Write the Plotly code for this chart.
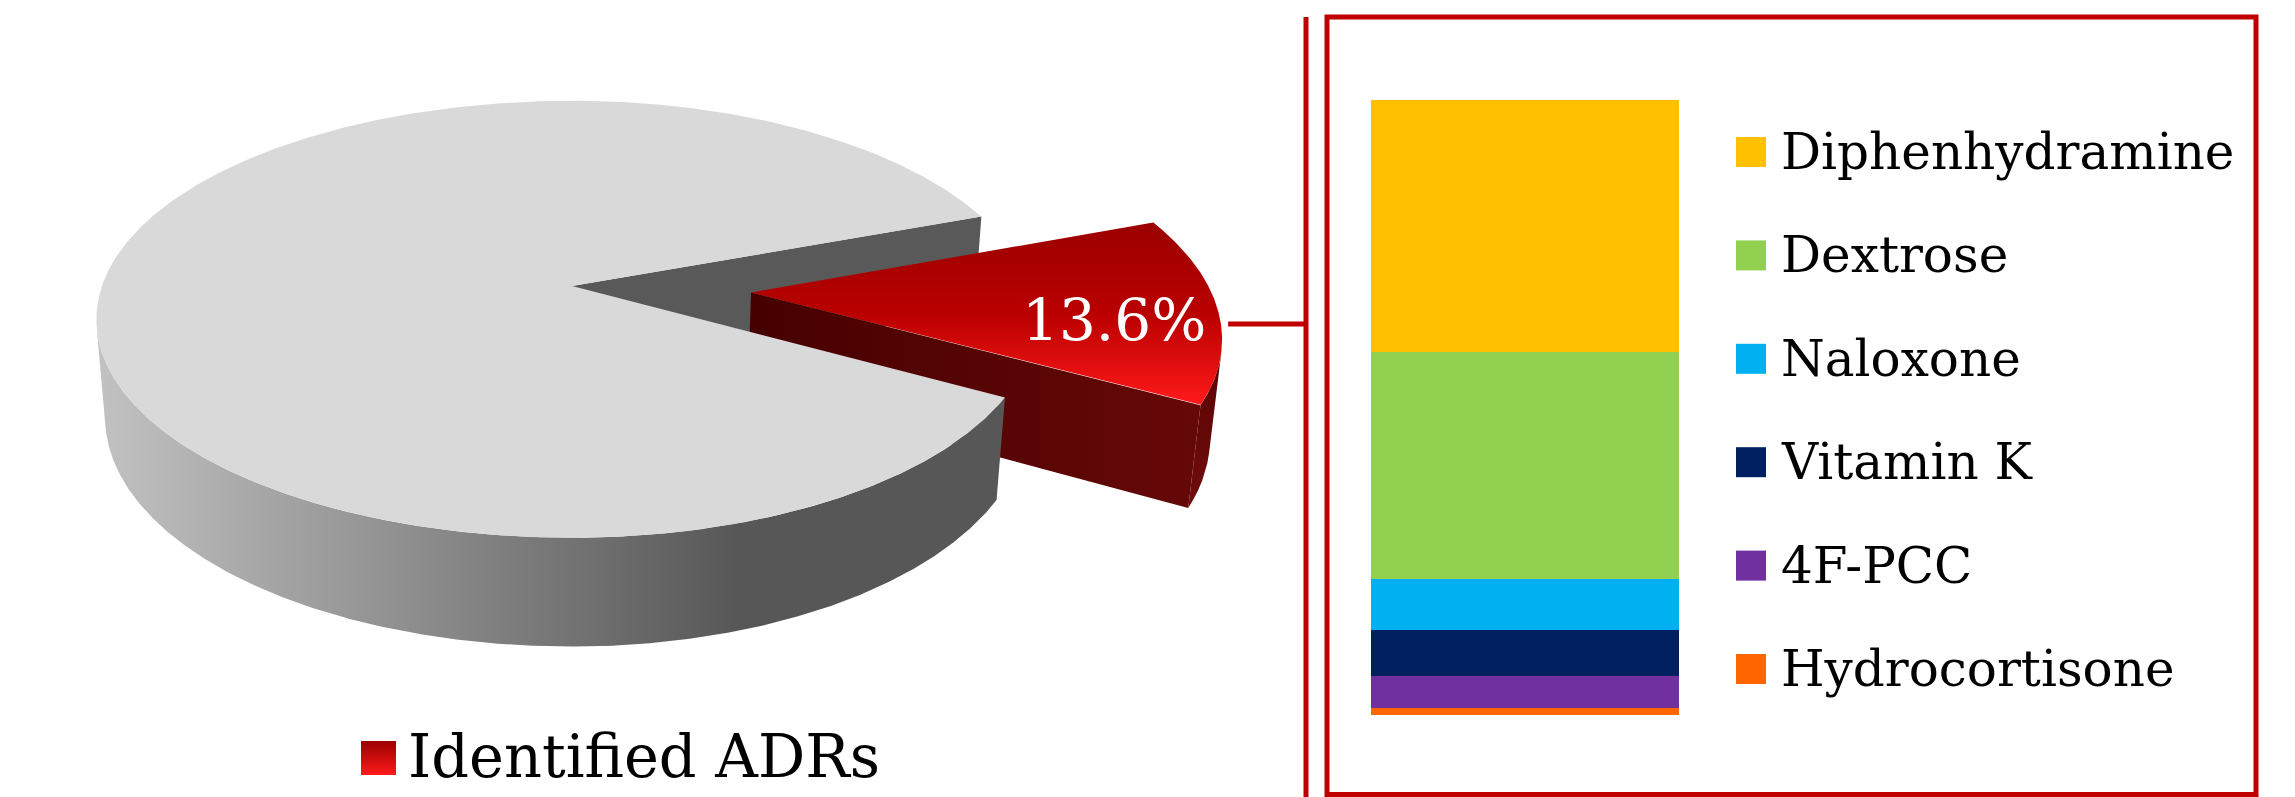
import numpy as np
import plotly.graph_objects as go

# ---------------- data ----------------
pie_labels = ["Identified ADRs", "Other"]
pie_share = [13.6, 86.4]

drug_names = ["Diphenhydramine", "Dextrose", "Naloxone", "Vitamin K", "4F-PCC", "Hydrocortisone"]
drug_share = [41.0, 36.9, 8.3, 7.5, 5.2, 1.1]
drug_colors = ["#FFC000", "#92D050", "#00B0F0", "#002060", "#7030A0", "#FF6600"]

# ---------------- layout parameters ----------------
W, H = 2295, 797
FONT = "DejaVu Serif"
RED_LINE = "#C00000"

# 3-D pie camera / geometry (pixel-space layout)
CX, CY = 572, 286
K = 2750
KR = 0.975          # slight horizontal compression of the right half (as in reference)
DIST = 5.85
ELEV = np.radians(27)
THICK = 0.236
TOP_ANGLE = 20.0
EXPLODE = 0.39
cE, sE = np.cos(ELEV), np.sin(ELEV)


def proj(X, Y, Z):
    X = np.asarray(X, float)
    Y = np.asarray(Y, float)
    Z = np.asarray(Z, float)
    ry = Y + DIST * cE
    rz = Z - DIST * sE
    depth = ry * cE - rz * sE
    up = ry * sE + rz * cE
    xs = K * X / depth
    xs = np.where(xs > 0, xs * KR, xs)
    return CX + xs, CY - K * up / depth


span = 360.0 * pie_share[0] / sum(pie_share)
a_hi = TOP_ANGLE
a_lo = TOP_ANGLE - span
beta = np.radians((a_hi + a_lo) / 2)
Ex, Ey = EXPLODE * np.cos(beta), EXPLODE * np.sin(beta)


def poly(trace_x, trace_y, **kw):
    return go.Scatter(x=list(trace_x) + [trace_x[0]], y=list(trace_y) + [trace_y[0]],
                      mode="lines", fill="toself", line=dict(width=0),
                      hoverinfo="skip", showlegend=False, **kw)


fig = go.Figure()

# --- gray slice: cut face at upper edge (visible through the gap)
ah = np.radians(a_hi)
gx, gy = proj([0, np.cos(ah), np.cos(ah), 0], [0, np.sin(ah), np.sin(ah), 0], [0, 0, -THICK, -THICK])
fig.add_trace(poly(gx, gy, fillcolor="#595959"))

# --- red slice: cut face at lower edge
al = np.radians(a_lo)
rx, ry = proj([Ex, Ex + np.cos(al), Ex + np.cos(al), Ex],
              [Ey, Ey + np.sin(al), Ey + np.sin(al), Ey], [0, 0, -THICK, -THICK])
fig.add_trace(poly(rx, ry, fillgradient=dict(type="horizontal",
                                             colorscale=[[0, "#460000"], [1, "#660808"]])))

# --- red slice: visible rim
ang = np.radians(np.linspace(a_lo, a_hi, 3000))
vis = 1 + Ex * np.cos(ang) + (Ey + DIST * cE) * np.sin(ang) < 0
ra = ang[vis]
tx, ty = proj(Ex + np.cos(ra), Ey + np.sin(ra), np.zeros_like(ra))
bx, by = proj(Ex + np.cos(ra), Ey + np.sin(ra), np.full_like(ra, -THICK))
fig.add_trace(poly(np.concatenate([tx, bx[::-1]]), np.concatenate([ty, by[::-1]]),
                   fillgradient=dict(type="vertical",
                                     colorscale=[[0, "#700C0C"], [1, "#5A0404"]])))

# --- red slice: top face
ang = np.radians(np.linspace(a_lo, a_hi, 400))
px_, py_ = proj(np.concatenate([[Ex], Ex + np.cos(ang)]),
                np.concatenate([[Ey], Ey + np.sin(ang)]), np.zeros(len(ang) + 1))
fig.add_trace(poly(px_, py_, fillgradient=dict(
    type="vertical", colorscale=[[0, "#9A0000"], [0.5, "#BA0000"], [1, "#FF1A1A"]],
    start=float(py_.min()), stop=float(py_.max()))))
red_right = float(px_.max())

# --- gray slice: visible rim
sil = np.degrees(np.arcsin(1 / (DIST * cE)))
g0, g1 = max(a_hi, 180 + sil), min(a_lo + 360, 360 - sil)
ang = np.radians(np.linspace(g0, g1, 600))
tx, ty = proj(np.cos(ang), np.sin(ang), np.zeros_like(ang))
bx, by = proj(np.cos(ang), np.sin(ang), np.full_like(ang, -THICK))
sx = np.concatenate([tx, bx[::-1]])
fig.add_trace(poly(sx, np.concatenate([ty, by[::-1]]), fillgradient=dict(
    type="horizontal", colorscale=[[0, "#C2C2C2"], [1, "#575757"]],
    start=float(sx.min()), stop=740.0)))

# --- gray slice: top face
ang = np.radians(np.linspace(a_hi, a_lo + 360, 800))
gx, gy = proj(np.concatenate([[0], np.cos(ang)]), np.concatenate([[0], np.sin(ang)]),
              np.zeros(len(ang) + 1))
fig.add_trace(poly(gx, gy, fillcolor="#D9D9D9"))

# --- percentage label on red slice
lx, ly = proj(Ex + 0.78 * np.cos(beta), Ey + 0.78 * np.sin(beta), 0)
annotations = [dict(x=float(lx), y=float(ly), xref="x", yref="y", text=f"{pie_share[0]:.1f}%",
                    showarrow=False, yshift=-14, font=dict(family=FONT, size=58, color="white"))]

# --- bottom legend for the pie
LEG_Y = 756
lgx = [361, 396, 396, 361]
lgy = [LEG_Y - 15, LEG_Y - 15, LEG_Y + 19, LEG_Y + 19]
fig.add_trace(poly(lgx, lgy, fillgradient=dict(
    type="vertical", colorscale=[[0, "#9A0000"], [1, "#FF1A1A"]],
    start=LEG_Y - 15, stop=LEG_Y + 19)))
annotations.append(dict(x=406, y=LEG_Y, xref="x", yref="y", xanchor="left", yanchor="middle",
                        text=pie_labels[0], showarrow=False,
                        font=dict(family=FONT, size=59, color="black")))

# --- stacked bar (bar of pie)
BAR_X0, BAR_X1, BAR_TOP, BAR_BOT = 1371, 1679, 100, 715
for name, val, col in list(zip(drug_names, drug_share, drug_colors))[::-1]:
    fig.add_trace(go.Bar(x=[0], y=[val], width=1, name=name, marker=dict(color=col, line=dict(width=0)),
                         xaxis="x2", yaxis="y2", showlegend=False, hoverinfo="name+y"))

# --- right legend
LX, LY0, LDY = 1751, 152, 103.4
leg_y = [LY0 + i * LDY for i in range(len(drug_names))]
fig.add_trace(go.Scatter(x=[LX] * len(drug_names), y=leg_y, mode="markers",
                         marker=dict(symbol="square", size=30, color=drug_colors, line=dict(width=0)),
                         hoverinfo="skip", showlegend=False))
for name, yy in zip(drug_names, leg_y):
    annotations.append(dict(x=LX + 28, y=yy, xref="x", yref="y", xanchor="left", yanchor="middle",
                            text=name, showarrow=False, font=dict(family=FONT, size=50, color="black")))

# --- connector lines and frame
shapes = [
    dict(type="line", x0=red_right + 6, x1=1306, y0=324, y1=324, xref="x", yref="y",
         line=dict(color=RED_LINE, width=5)),
    dict(type="line", x0=1306, x1=1306, y0=17, y1=H, xref="x", yref="y",
         line=dict(color=RED_LINE, width=5)),
    dict(type="rect", x0=1327, x1=2256, y0=17, y1=794.5, xref="x", yref="y",
         line=dict(color=RED_LINE, width=5)),
]

fig.update_layout(
    width=W, height=H, margin=dict(l=0, r=0, t=0, b=0),
    paper_bgcolor="white", plot_bgcolor="rgba(0,0,0,0)",
    showlegend=False, barmode="stack", bargap=0,
    xaxis=dict(range=[0, W], domain=[0, 1], visible=False, fixedrange=True),
    yaxis=dict(range=[H, 0], domain=[0, 1], visible=False, fixedrange=True),
    xaxis2=dict(range=[-0.5, 0.5], domain=[BAR_X0 / W, BAR_X1 / W], anchor="y2", visible=False),
    yaxis2=dict(range=[0, 100], domain=[(H - BAR_BOT) / H, (H - BAR_TOP) / H], anchor="x2",
                visible=False),
    annotations=annotations, shapes=shapes,
)

fig.write_html("out.html")
